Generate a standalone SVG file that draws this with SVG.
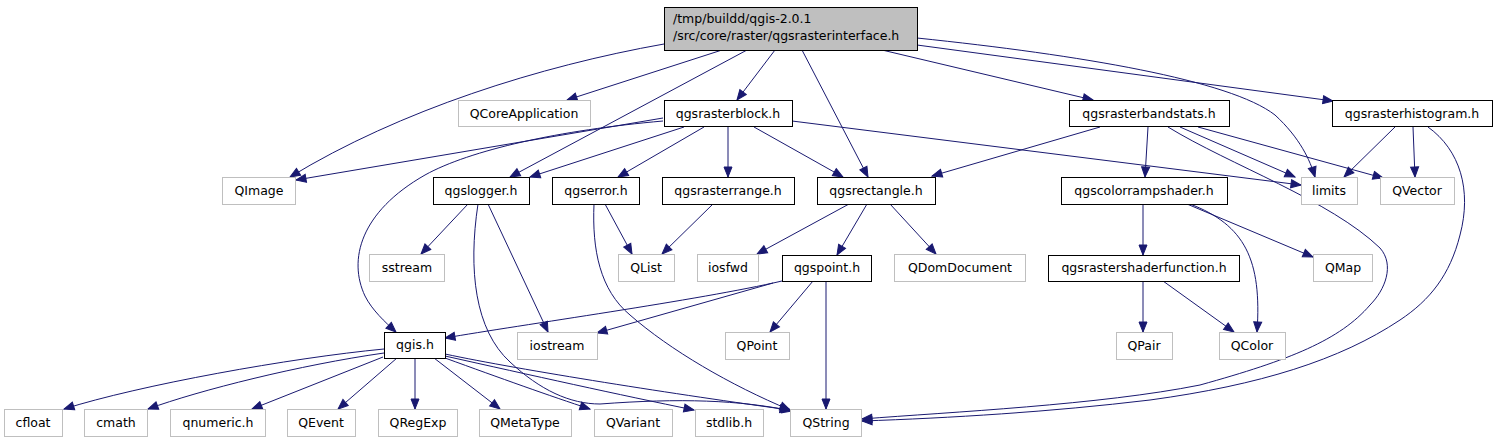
<svg xmlns="http://www.w3.org/2000/svg" width="1497" height="443" viewBox="0 0 1497 443">
<style>
.n rect{fill:#fff;stroke:#000;stroke-width:1}
.x rect{fill:#fff;stroke:#bfbfbf;stroke-width:1}
.r rect{fill:#bfbfbf;stroke:#000;stroke-width:1}
text{font-family:"DejaVu Sans","Liberation Sans",sans-serif;font-size:12.5px;fill:#000}
.c{text-anchor:middle}
#edges path{fill:none;stroke:#191970;stroke-width:1;marker-end:url(#a)}
</style>
<defs>
<marker id="a" markerUnits="userSpaceOnUse" markerWidth="11" markerHeight="8" refX="10" refY="4" orient="auto" overflow="visible">
<path d="M0,0 L10,4 L0,8 z" fill="#191970" stroke="#191970"/>
</marker>
</defs>
<g id="edges">
<path d="M664,44 C540,66 400,110 290,177"/>
<path d="M722,50 L567,100"/>
<path d="M775,50 L737,100"/>
<path d="M747,50 L510,177"/>
<path d="M802,50 L868,177"/>
<path d="M882,50 L1093,100"/>
<path d="M917,45 L1333,101"/>
<path d="M917,38 C1080,55 1230,80 1275,115 C1300,138 1310,160 1315,177"/>
<path d="M663,118 L296,180"/>
<path d="M663,121 C560,130 470,150 425,175 C360,212 348,260 365,296 C372,310 385,322 396,332"/>
<path d="M684,127 L530,177"/>
<path d="M704,127 L618,177"/>
<path d="M728,127 L728,177"/>
<path d="M754,127 L843,177"/>
<path d="M792,121 L1301,185"/>
<path d="M1100,127 L932,176"/>
<path d="M1148,127 L1145,177"/>
<path d="M1180,127 L1295,177"/>
<path d="M1198,127 L1383,178"/>
<path d="M1168,127 C1230,165 1330,200 1380,248 C1395,265 1385,290 1370,305 C1340,340 1290,360 1200,385 C1100,405 950,412 862,419"/>
<path d="M1395,127 L1344,177"/>
<path d="M1413,127 L1415,177"/>
<path d="M1428,127 C1460,150 1472,190 1460,235 C1450,275 1430,300 1400,320 C1340,360 1260,385 1150,400 C1050,412 950,418 862,421"/>
<path d="M1143,204 L1143,255"/>
<path d="M1187,204 L1313,257"/>
<path d="M1190,204 C1245,225 1262,260 1257,332"/>
<path d="M1143,281 L1143,332"/>
<path d="M1163,281 L1234,332"/>
<path d="M468,204 L421,254"/>
<path d="M488,204 L548,332"/>
<path d="M478,204 C468,270 475,330 510,362 C540,390 570,404 600,404 C680,398 740,400 792,411"/>
<path d="M605,204 L632,254"/>
<path d="M594,204 C592,250 600,290 630,315 C670,350 730,385 790,410"/>
<path d="M713,204 L662,254"/>
<path d="M849,204 L757,254"/>
<path d="M867,204 L837,255"/>
<path d="M890,204 L936,254"/>
<path d="M782,281 C700,300 520,325 445,338"/>
<path d="M773,283 L597,333"/>
<path d="M813,281 L770,332"/>
<path d="M826,281 L826,409"/>
<path d="M384,349 C290,358 140,385 64,409"/>
<path d="M384,353 C300,365 200,390 148,409"/>
<path d="M383,357 L252,409"/>
<path d="M397,358 L338,409"/>
<path d="M415,358 L415,409"/>
<path d="M434,358 L500,409"/>
<path d="M445,358 C500,378 550,396 590,409"/>
<path d="M445,356 C530,375 620,395 694,410"/>
<path d="M445,354 C520,370 680,395 790,410"/>
</g>
<g id="root" class="r"><rect x="664.5" y="7.5" width="253" height="43"/><text x="673" y="23">/tmp/buildd/qgis-2.0.1</text><text x="673" y="40">/src/core/raster/qgsrasterinterface.h</text></g>
<g id="QCoreApplication" class="x"><rect x="458.5" y="100.5" width="132" height="26"/><text class="c" x="524" y="118">QCoreApplication</text></g>
<g id="qgsrasterblock" class="n"><rect x="664.5" y="100.5" width="128" height="26"/><text class="c" x="728" y="118">qgsrasterblock.h</text></g>
<g id="qgsrasterbandstats" class="n"><rect x="1069.5" y="100.5" width="160" height="26"/><text class="c" x="1149" y="118">qgsrasterbandstats.h</text></g>
<g id="qgsrasterhistogram" class="n"><rect x="1332.5" y="100.5" width="160" height="26"/><text class="c" x="1412" y="118">qgsrasterhistogram.h</text></g>
<g id="QImage" class="x"><rect x="222.5" y="177.5" width="73" height="27"/><text class="c" x="259" y="195">QImage</text></g>
<g id="qgslogger" class="n"><rect x="433.5" y="177.5" width="96" height="27"/><text class="c" x="481" y="195">qgslogger.h</text></g>
<g id="qgserror" class="n"><rect x="552.5" y="177.5" width="87" height="27"/><text class="c" x="596" y="195">qgserror.h</text></g>
<g id="qgsrasterrange" class="n"><rect x="662.5" y="177.5" width="132" height="27"/><text class="c" x="728" y="195">qgsrasterrange.h</text></g>
<g id="qgsrectangle" class="n"><rect x="817.5" y="177.5" width="118" height="27"/><text class="c" x="876" y="195">qgsrectangle.h</text></g>
<g id="qgscolorrampshader" class="n"><rect x="1061.5" y="177.5" width="166" height="27"/><text class="c" x="1144" y="195">qgscolorrampshader.h</text></g>
<g id="limits" class="x"><rect x="1301.5" y="177.5" width="56" height="27"/><text class="c" x="1329" y="195">limits</text></g>
<g id="QVector" class="x"><rect x="1380.5" y="177.5" width="74" height="27"/><text class="c" x="1417" y="195">QVector</text></g>
<g id="sstream" class="x"><rect x="369.5" y="254.5" width="75" height="27"/><text class="c" x="407" y="272">sstream</text></g>
<g id="QList" class="x"><rect x="618.5" y="254.5" width="56" height="27"/><text class="c" x="646" y="272">QList</text></g>
<g id="iosfwd" class="x"><rect x="697.5" y="254.5" width="61" height="27"/><text class="c" x="728" y="272">iosfwd</text></g>
<g id="qgspoint" class="n"><rect x="782.5" y="255.5" width="89" height="26"/><text class="c" x="827" y="272">qgspoint.h</text></g>
<g id="QDomDocument" class="x"><rect x="894.5" y="254.5" width="131" height="27"/><text class="c" x="960" y="272">QDomDocument</text></g>
<g id="qgsrastershaderfunction" class="n"><rect x="1048.5" y="255.5" width="191" height="26"/><text class="c" x="1144" y="272">qgsrastershaderfunction.h</text></g>
<g id="QMap" class="x"><rect x="1313.5" y="254.5" width="59" height="27"/><text class="c" x="1343" y="272">QMap</text></g>
<g id="qgis" class="n"><rect x="384.5" y="332.5" width="61" height="26"/><text class="c" x="415" y="349">qgis.h</text></g>
<g id="iostream" class="x"><rect x="517.5" y="332.5" width="80" height="27"/><text class="c" x="557" y="350">iostream</text></g>
<g id="QPoint" class="x"><rect x="725.5" y="332.5" width="64" height="27"/><text class="c" x="757" y="350">QPoint</text></g>
<g id="QPair" class="x"><rect x="1116.5" y="332.5" width="56" height="27"/><text class="c" x="1144" y="350">QPair</text></g>
<g id="QColor" class="x"><rect x="1219.5" y="332.5" width="66" height="27"/><text class="c" x="1252" y="350">QColor</text></g>
<g id="cfloat" class="x"><rect x="4.5" y="409.5" width="58" height="27"/><text class="c" x="33" y="427">cfloat</text></g>
<g id="cmath" class="x"><rect x="84.5" y="409.5" width="63" height="27"/><text class="c" x="116" y="427">cmath</text></g>
<g id="qnumeric" class="x"><rect x="170.5" y="409.5" width="95" height="27"/><text class="c" x="218" y="427">qnumeric.h</text></g>
<g id="QEvent" class="x"><rect x="287.5" y="409.5" width="68" height="27"/><text class="c" x="321" y="427">QEvent</text></g>
<g id="QRegExp" class="x"><rect x="378.5" y="409.5" width="79" height="27"/><text class="c" x="418" y="427">QRegExp</text></g>
<g id="QMetaType" class="x"><rect x="479.5" y="409.5" width="92" height="27"/><text class="c" x="525" y="427">QMetaType</text></g>
<g id="QVariant" class="x"><rect x="594.5" y="409.5" width="78" height="27"/><text class="c" x="633" y="427">QVariant</text></g>
<g id="stdlib" class="x"><rect x="695.5" y="409.5" width="68" height="27"/><text class="c" x="729" y="427">stdlib.h</text></g>
<g id="QString" class="x"><rect x="790.5" y="409.5" width="71" height="27"/><text class="c" x="826" y="427">QString</text></g>
</svg>
